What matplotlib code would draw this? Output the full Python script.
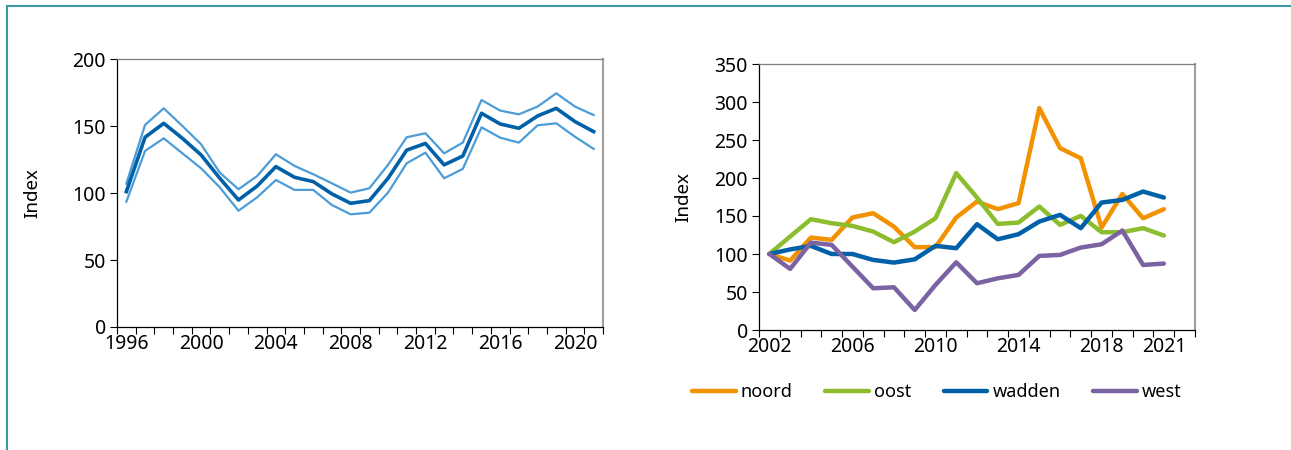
import matplotlib
matplotlib.use("Agg")
import matplotlib.pyplot as plt
from matplotlib.lines import Line2D
from matplotlib.ticker import FixedLocator, NullFormatter

plt.rcParams['font.family'] = ['Noto Sans', 'DejaVu Sans']

# ---- left chart data ----
years_left = list(range(1996, 2022))
mid = [101, 141.6, 152, 140.8, 128.4, 111, 94.8, 105.2, 119.7, 111.7, 108.5, 99.3, 92.3,
       94.3, 111, 132, 137, 121, 127.6, 159.5, 151.5, 148.3, 157.5, 163.2, 153.3, 145.8]
upper = [107, 150.8, 163.2, 150, 136.3, 115.2, 102.8, 112.7, 128.9, 120.2, 114, 107.2, 100.3,
         103.5, 121, 141.6, 144.6, 129.6, 137.6, 169.4, 161.5, 158.7, 164.5, 174.4, 164.5, 158.2]
lower = [93.5, 131.4, 140.8, 129.6, 118.4, 104.2, 86.8, 96.8, 109.7, 102.3, 102.3, 91, 84.1,
         85.3, 100.3, 122.2, 130.1, 111, 118, 149, 141.3, 137.6, 150.5, 152, 142, 132.9]
left_labels = ['1996', '2000', '2004', '2008', '2012', '2016', '2020']

# ---- right chart data ----
years_right = list(range(2002, 2022))
noord = [100, 91.3, 121.6, 118.6, 148, 153.7, 136, 109, 109, 148, 169, 159, 166.9,
         292, 239.3, 226, 134.8, 179, 147, 159]
oost = [100, 123, 145.8, 140.5, 137, 129.5, 115.5, 129.5, 147, 206.4, 174.3, 139.6, 141.4,
        162.5, 138.3, 150.2, 128.7, 128.7, 134, 124.3]
wadden = [100, 106, 110.7, 100, 100, 92.2, 88.7, 93, 110.7, 107.6, 139.2, 119.4, 126,
          142.7, 151.5, 134, 167.7, 171.2, 182.2, 174.3]
west = [100, 80.4, 115, 112, 83.4, 54.9, 56.2, 26.3, 59.3, 89.1, 61.5, 68, 72.5,
        97.5, 98.8, 108.5, 112.8, 130.9, 85.6, 87.4]
right_labels = ['2002', '2006', '2010', '2014', '2018', '2021']
series_names = ['noord', 'oost', 'wadden', 'west']
series_colors = ['#F39200', '#8CBD2E', '#0060A8', '#7B62A3']

W, H = 1291, 450
fig = plt.figure(figsize=(W / 100, H / 100), dpi=100)

# frame lines (top and left)
frame_col = '#3F97A6'
fig.add_artist(Line2D([7 / W, 7 / W], [0, 1 - 6 / H], color=frame_col, lw=1.5, transform=fig.transFigure))
fig.add_artist(Line2D([7 / W, 1], [1 - 6 / H, 1 - 6 / H], color=frame_col, lw=1.5, transform=fig.transFigure))


def style_axes(ax, n_cat, fs):
    ax.set_xlim(-0.5, n_cat - 0.5)
    ax.xaxis.set_minor_locator(FixedLocator([k - 0.5 for k in range(n_cat + 1)]))
    ax.xaxis.set_minor_formatter(NullFormatter())
    ax.tick_params(axis='x', which='minor', length=5, width=0.8, direction='out', color='black')
    ax.tick_params(axis='x', which='major', length=0, labelsize=fs, pad=5)
    ax.tick_params(axis='y', length=5, width=0.8, direction='out', labelsize=fs, pad=3)
    ax.spines['left'].set_color('black')
    ax.spines['bottom'].set_color('black')
    ax.spines['top'].set_color('#7f7f7f')
    ax.spines['right'].set_color('#a0a0a0')
    ax.spines['right'].set_linewidth(1.5)
    for s in ['left', 'bottom', 'top']:
        ax.spines[s].set_linewidth(0.9)


# ---- left axes ----
ax1 = fig.add_axes([117 / W, 1 - 327 / H, 486 / W, 268 / H])
xl = list(range(len(years_left)))
ax1.plot(xl, upper, color='#4C9CD8', lw=1.6)
ax1.plot(xl, lower, color='#4C9CD8', lw=1.6)
ax1.plot(xl, mid, color='#0060A8', lw=2.6)
ax1.set_ylim(0, 200)
ax1.set_yticks([0, 50, 100, 150, 200])
style_axes(ax1, len(years_left), 14)
ax1.set_xticks([years_left.index(int(l)) for l in left_labels])
ax1.set_xticklabels(left_labels)
ax1.set_ylabel('Index', fontsize=13.5, labelpad=22)

# ---- right axes ----
ax2 = fig.add_axes([759 / W, 1 - 330 / H, 436 / W, 266 / H])
xr = list(range(len(years_right)))
for name, data, col in zip(series_names, [noord, oost, wadden, west], series_colors):
    ax2.plot(xr, data, color=col, lw=3.2, label=name, solid_capstyle='round')
ax2.set_ylim(0, 350)
ax2.set_yticks(list(range(0, 351, 50)))
style_axes(ax2, len(years_right) + 1, 14)
ax2.set_xticks([years_right.index(int(l)) for l in right_labels])
ax2.set_xticklabels(right_labels)
ax2.set_ylabel('Index', fontsize=13.5, labelpad=16)

fig.legend(*ax2.get_legend_handles_labels(), loc='center', bbox_to_anchor=(937 / W, 1 - 392 / H),
           ncol=4, frameon=False, fontsize=13, handlelength=2.4, handletextpad=0.3,
           columnspacing=1.8)

fig.savefig('out.png', dpi=100)
